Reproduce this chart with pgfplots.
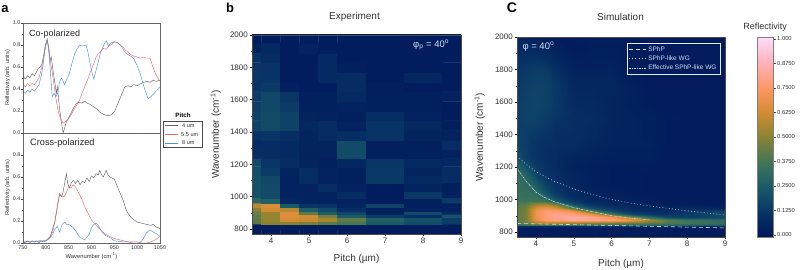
\documentclass[border=0pt]{standalone}
\usepackage{pgfplots}
\pgfplotsset{compat=1.18}
\usepackage{fontspec}
\setmainfont{Liberation Sans}
\definecolor{lbl}{gray}{0.2}
\definecolor{onmap}{RGB}{205,225,245}
\definecolor{cK}{RGB}{100,100,100}
\definecolor{cR}{RGB}{235,105,110}
\definecolor{cB}{RGB}{80,145,215}
\pgfplotsset{
 colormap={refl}{rgb255=(0,22,90) rgb255=(8,52,102) rgb255=(25,90,105) rgb255=(65,118,88) rgb255=(138,130,50) rgb255=(212,140,50) rgb255=(255,152,102) rgb255=(255,178,190) rgb255=(255,222,250)},
 /pgf/number format/assume math mode=true,
 /pgf/number format/1000 sep={},
 every axis/.append style={scale only axis, tick align=outside, xtick pos=bottom, ytick pos=left, axis on top},
 aspec/.style={xmin=750,xmax=1050,ymin=0,ymax=1,width=137pt,height=110pt,
   axis line style={gray!80!black,line width=.5pt}, tick style={gray!60!black,line width=.3pt},
   major tick length=1.5pt, minor tick length=1pt,
   xtick={750,800,...,1050}, ytick={0,.2,.4,.6,.8,1}, minor y tick num=1, minor x tick num=1,
   tick label style={font=\fontsize{5.4}{6}\selectfont,text=lbl,inner sep=1pt},
   yticklabel style={/pgf/number format/fixed,/pgf/number format/fixed zerofill,/pgf/number format/precision=1},
   ylabel style={font=\fontsize{5.6}{6}\selectfont,text=lbl},
   xlabel style={font=\fontsize{5.8}{6}\selectfont,text=lbl},
   ylabel={Reflectivity (arb. units)}, ylabel shift=-2pt, xlabel shift=-1pt},
 mapspec/.style={xmin=3.5,xmax=9,ymin=769,ymax=2000,
   colormap name=refl, point meta min=0, point meta max=1,
   xtick={4,5,6,7,8,9}, ytick={800,1000,...,2000}, minor x tick num=1, minor y tick num=1,
   major tick length=2.5pt, minor tick length=1.5pt,
   tick style={black,line width=.35pt},
   axis line style={line width=.3pt,black!70},
   tick label style={font=\fontsize{8}{9}\selectfont,text=lbl,inner sep=1.5pt},
   label style={font=\fontsize{10}{11}\selectfont,text=lbl},
   xlabel={Pitch (µm)}, ylabel={Wavenumber (cm\textsuperscript{-1})}, ylabel shift=4pt, xlabel shift=5pt},
}
\begin{document}
\begin{tikzpicture}[x=1pt,y=1pt]
\useasboundingbox (0,0) rectangle (800,270);
% --- panel a top
\begin{axis}[aspec, at={(23pt,137pt)}, anchor=south west, xticklabels={}]
\addplot[cK,line width=.45pt] coordinates {(750,.52)(755,.49)(760,.52)(765,.5)(770,.54)(775,.52)(780,.56)(784,.59)(787,.6)(791,.62)(795,.7)(799,.8)(803,.85)(806,.78)(809,.66)(812,.69)(816,.56)(820,.45)(823,.36)(825,.42)(827,.35)(830,.22)(834,.1)(838,.0)(842,.06)(845,.1)(849,.13)(855,.18)(861,.23)(867,.27)(873,.28)(879,.27)(885,.29)(891,.27)(897,.26)(904,.24)(911,.22)(918,.19)(926,.17)(933,.16)(940,.16)(945,.17)(951,.2)(956,.25)(962,.31)(968,.37)(973,.42)(980,.43)(986,.42)(992,.44)(1000,.43)(1008,.45)(1015,.46)(1021,.47)(1028,.46)(1035,.48)(1042,.47)(1050,.48)};
\addplot[cR,line width=.45pt] coordinates {(750,.44)(755,.42)(760,.45)(765,.43)(770,.45)(775,.44)(780,.47)(785,.5)(790,.58)(795,.68)(799,.78)(803,.85)(807,.76)(811,.62)(816,.5)(821,.34)(827,.2)(832,.13)(838,.09)(845,.11)(852,.14)(860,.2)(867,.25)(874,.3)(880,.37)(887,.44)(893,.5)(899,.57)(905,.63)(911,.7)(917,.73)(922,.75)(926,.77)(932,.76)(938,.79)(945,.81)(951,.83)(957,.82)(963,.8)(969,.78)(975,.75)(981,.73)(987,.71)(992,.7)(1000,.69)(1007,.68)(1014,.69)(1021,.68)(1028,.68)(1033,.62)(1039,.55)(1045,.5)(1050,.47)};
\addplot[cB,line width=.45pt] coordinates {(750,.38)(755,.36)(760,.39)(765,.37)(770,.4)(775,.38)(780,.41)(785,.44)(790,.52)(795,.65)(799,.78)(803,.85)(807,.72)(811,.5)(814,.33)(818,.36)(822,.33)(826,.36)(830,.46)(834,.5)(837,.48)(841,.44)(846,.49)(852,.55)(857,.63)(863,.72)(868,.76)(874,.8)(880,.79)(888,.8)(892,.74)(896,.65)(900,.57)(905,.49)(910,.57)(915,.65)(919,.72)(922,.75)(927,.8)(932,.84)(937,.79)(943,.82)(951,.83)(958,.82)(965,.79)(971,.75)(977,.72)(985,.7)(992,.68)(999,.62)(1006,.55)(1012,.46)(1018,.38)(1024,.31)(1030,.33)(1037,.36)(1044,.39)(1050,.42)};
\end{axis}
% --- panel a bottom
\begin{axis}[aspec, at={(23pt,27pt)}, anchor=south west, xlabel={Wavenumber (cm\textsuperscript{-1})}, ytick={0,.2,.4,.6,.8}]
\addplot[cK,line width=.45pt] coordinates {(750,.01)(770,.015)(790,.02)(800,.02)(805,.04)(810,.06)(815,.13)(820,.2)(825,.33)(830,.44)(835,.42)(838,.47)(842,.56)(845,.63)(848,.54)(852,.5)(856,.55)(860,.57)(865,.54)(870,.57)(875,.53)(880,.56)(885,.55)(890,.59)(895,.56)(900,.61)(905,.59)(910,.63)(915,.62)(918,.66)(922,.62)(926,.6)(932,.66)(936,.62)(940,.6)(945,.59)(950,.58)(955,.53)(960,.48)(965,.43)(970,.38)(975,.31)(980,.27)(985,.24)(990,.22)(1000,.19)(1010,.18)(1020,.17)(1030,.16)(1035,.17)(1040,.15)(1050,.13)};
\addplot[cR,line width=.45pt] coordinates {(750,.01)(780,.01)(800,.02)(808,.05)(815,.1)(820,.2)(825,.32)(830,.45)(835,.43)(840,.42)(845,.46)(850,.51)(855,.5)(860,.53)(865,.51)(870,.47)(875,.43)(880,.39)(885,.33)(890,.29)(895,.25)(900,.21)(910,.16)(920,.12)(930,.08)(940,.06)(950,.04)(960,.03)(970,.02)(980,.01)(990,.01)(1000,.01)(1010,.0)(1020,.0)(1030,.01)(1040,.03)(1050,.06)};
\addplot[cB,line width=.45pt] coordinates {(750,.01)(755,.0)(760,.02)(765,.0)(770,.02)(775,.01)(780,.02)(785,.0)(790,.02)(795,.01)(800,.02)(805,.03)(810,.05)(815,.08)(820,.13)(825,.15)(830,.1)(835,.16)(838,.18)(842,.19)(845,.17)(850,.17)(860,.14)(865,.11)(870,.08)(875,.05)(880,.04)(885,.03)(890,.05)(895,.08)(900,.14)(905,.17)(910,.18)(915,.16)(920,.12)(925,.09)(930,.07)(940,.05)(950,.02)(960,.015)(970,.01)(980,.01)(990,.0)(1000,.0)(1005,.0)(1010,.02)(1015,.05)(1020,.09)(1028,.12)(1035,.1)(1040,.09)(1050,.06)};
\end{axis}
\node[font=\fontsize{9}{10}\selectfont,text=black!85,anchor=west,inner sep=0] at (29,236) {Co-polarized};
\node[font=\fontsize{9.2}{10}\selectfont,text=black!85,anchor=west,inner sep=0] at (30,126.5) {Cross-polarized};
% legend of panel a
\draw[black!70,line width=.4pt] (163.5,149) rectangle (202.5,123);
\node[font=\bfseries\fontsize{6.2}{7}\selectfont,inner sep=0] at (183,154.5) {Pitch};
\draw[cK,line width=.5pt] (165,144.5) -- (178,144.5);
\draw[cR,line width=.5pt] (165,135.5) -- (178,135.5);
\draw[cB,line width=.5pt] (165,127) -- (178,127);
\node[font=\fontsize{5.6}{6}\selectfont,text=lbl,anchor=west,inner sep=0] at (182,144.5) {4 um};
\node[font=\fontsize{5.6}{6}\selectfont,text=lbl,anchor=west,inner sep=0] at (181,135.5) {5.5 um};
\node[font=\fontsize{5.6}{6}\selectfont,text=lbl,anchor=west,inner sep=0] at (182,127) {8 um};
% --- panel b
\begin{axis}[mapspec, at={(252pt,36pt)}, anchor=south west, width=209pt, height=199pt]
\addplot[matrix plot*, mesh/cols=9, point meta=explicit] table[row sep=\\, meta index=2]{
3.5 780 .02\\4 780 .02\\4.5 780 .02\\5 780 .02\\5.5 780 .02\\6 780 .02\\7 780 .02\\8 780 .02\\9 780 .02\\
3.5 820 .03\\4 820 .03\\4.5 820 .03\\5 820 .03\\5.5 820 .03\\6 820 .03\\7 820 .03\\8 820 .03\\9 820 .03\\
3.5 840 .42\\4 840 .5\\4.5 840 .5\\5 840 .47\\5.5 840 .42\\6 840 .38\\7 840 .25\\8 840 .2\\9 840 .15\\
3.5 860 .42\\4 860 .52\\4.5 860 .62\\5 860 .6\\5.5 860 .55\\6 860 .43\\7 860 .28\\8 860 .22\\9 860 .15\\
3.5 880 .42\\4 880 .52\\4.5 880 .65\\5 880 .62\\5.5 880 .47\\6 880 .26\\7 880 .15\\8 880 .1\\9 880 .22\\
3.5 900 .45\\4 900 .52\\4.5 900 .65\\5 900 .42\\5.5 900 .27\\6 900 .18\\7 900 .05\\8 900 .2\\9 900 .07\\
3.5 920 .5\\4 920 .62\\4.5 920 .58\\5 920 .27\\5.5 920 .2\\6 920 .1\\7 920 .04\\8 920 .05\\9 920 .04\\
3.5 945 .58\\4 945 .64\\4.5 945 .25\\5 945 .13\\5.5 945 .12\\6 945 .06\\7 945 .17\\8 945 .04\\9 945 .04\\
3.5 975 .3\\4 975 .28\\4.5 975 .07\\5 975 .06\\5.5 975 .05\\6 975 .05\\7 975 .03\\8 975 .04\\9 975 .15\\
3.5 1010 .22\\4 1010 .2\\4.5 1010 .06\\5 1010 .05\\5.5 1010 .05\\6 1010 .09\\7 1010 .03\\8 1010 .14\\9 1010 .05\\
3.5 1060 .22\\4 1060 .2\\4.5 1060 .05\\5 1060 .05\\5.5 1060 .1\\6 1060 .05\\7 1060 .03\\8 1060 .06\\9 1060 .04\\
3.5 1110 .22\\4 1110 .19\\4.5 1110 .05\\5 1110 .1\\5.5 1110 .05\\6 1110 .04\\7 1110 .14\\8 1110 .08\\9 1110 .09\\
3.5 1160 .21\\4 1160 .15\\4.5 1160 .06\\5 1160 .1\\5.5 1160 .05\\6 1160 .04\\7 1160 .14\\8 1160 .06\\9 1160 .09\\
3.5 1210 .2\\4 1210 .13\\4.5 1210 .09\\5 1210 .06\\5.5 1210 .04\\6 1210 .07\\7 1210 .13\\8 1210 .08\\9 1210 .07\\
3.5 1260 .1\\4 1260 .1\\4.5 1260 .08\\5 1260 .05\\5.5 1260 .05\\6 1260 .2\\7 1260 .04\\8 1260 .04\\9 1260 .05\\
3.5 1320 .09\\4 1320 .09\\4.5 1320 .08\\5 1320 .06\\5.5 1320 .06\\6 1320 .2\\7 1320 .04\\8 1320 .04\\9 1320 .09\\
3.5 1380 .12\\4 1380 .13\\4.5 1380 .1\\5 1380 .06\\5.5 1380 .09\\6 1380 .1\\7 1380 .12\\8 1380 .06\\9 1380 .05\\
3.5 1440 .17\\4 1440 .2\\4.5 1440 .17\\5 1440 .07\\5.5 1440 .09\\6 1440 .05\\7 1440 .12\\8 1440 .07\\9 1440 .04\\
3.5 1500 .17\\4 1500 .2\\4.5 1500 .17\\5 1500 .06\\5.5 1500 .05\\6 1500 .04\\7 1500 .1\\8 1500 .05\\9 1500 .03\\
3.5 1560 .16\\4 1560 .19\\4.5 1560 .15\\5 1560 .04\\5.5 1560 .04\\6 1560 .05\\7 1560 .04\\8 1560 .04\\9 1560 .03\\
3.5 1620 .15\\4 1620 .19\\4.5 1620 .13\\5 1620 .04\\5.5 1620 .04\\6 1620 .08\\7 1620 .04\\8 1620 .04\\9 1620 .05\\
3.5 1680 .13\\4 1680 .14\\4.5 1680 .04\\5 1680 .03\\5.5 1680 .03\\6 1680 .09\\7 1680 .04\\8 1680 .03\\9 1680 .03\\
3.5 1740 .13\\4 1740 .12\\4.5 1740 .03\\5 1740 .03\\5.5 1740 .08\\6 1740 .09\\7 1740 .03\\8 1740 .07\\9 1740 .03\\
3.5 1800 .13\\4 1800 .12\\4.5 1800 .03\\5 1800 .03\\5.5 1800 .08\\6 1800 .04\\7 1800 .03\\8 1800 .03\\9 1800 .03\\
3.5 1860 .12\\4 1860 .09\\4.5 1860 .03\\5 1860 .03\\5.5 1860 .08\\6 1860 .03\\7 1860 .03\\8 1860 .03\\9 1860 .03\\
3.5 1920 .05\\4 1920 .08\\4.5 1920 .03\\5 1920 .05\\5.5 1920 .03\\6 1920 .03\\7 1920 .03\\8 1920 .03\\9 1920 .03\\
3.5 1980 .03\\4 1980 .03\\4.5 1980 .03\\5 1980 .03\\5.5 1980 .03\\6 1980 .03\\7 1980 .03\\8 1980 .03\\9 1980 .03\\
};
\end{axis}
% --- panel c
\begin{axis}[mapspec, at={(517pt,33pt)}, anchor=south west, width=208pt, height=200pt, xlabel shift=7pt, ylabel shift=5pt,
  legend style={at={(0.975,0.97)},anchor=north east,fill=none,draw=onmap!60,line width=.3pt,
    font=\fontsize{6.5}{7}\selectfont,text=onmap,row sep=-1pt,inner sep=1.2pt},
  legend cell align=left]
\addplot[surf, shader=interp, mesh/cols=14, point meta=explicit, forget plot] table[row sep=\\, meta index=2]{
3.5 769 .02\\3.75 769 .02\\4 769 .02\\4.25 769 .02\\4.5 769 .02\\5 769 .02\\5.5 769 .02\\6 769 .02\\6.5 769 .02\\7 769 .02\\7.5 769 .02\\8 769 .02\\8.5 769 .02\\9 769 .02\\
3.5 822 .03\\3.75 822 .03\\4 822 .03\\4.25 822 .03\\4.5 822 .03\\5 822 .03\\5.5 822 .03\\6 822 .03\\6.5 822 .03\\7 822 .03\\7.5 822 .03\\8 822 .03\\8.5 822 .03\\9 822 .03\\
3.5 835 .1\\3.75 835 .1\\4 835 .1\\4.25 835 .1\\4.5 835 .1\\5 835 .1\\5.5 835 .1\\6 835 .1\\6.5 835 .1\\7 835 .09\\7.5 835 .09\\8 835 .08\\8.5 835 .08\\9 835 .08\\
3.5 845 .32\\3.75 845 .34\\4 845 .36\\4.25 845 .36\\4.5 845 .36\\5 845 .34\\5.5 845 .33\\6 845 .32\\6.5 845 .31\\7 845 .3\\7.5 845 .29\\8 845 .28\\8.5 845 .27\\9 845 .26\\
3.5 858 .42\\3.75 858 .45\\4 858 .54\\4.25 858 .56\\4.5 858 .56\\5 858 .52\\5.5 858 .49\\6 858 .46\\6.5 858 .43\\7 858 .41\\7.5 858 .39\\8 858 .37\\8.5 858 .35\\9 858 .33\\
3.5 872 .42\\3.75 872 .47\\4 872 .68\\4.25 872 .76\\4.5 872 .8\\5 872 .83\\5.5 872 .82\\6 872 .78\\6.5 872 .7\\7 872 .55\\7.5 872 .42\\8 872 .36\\8.5 872 .34\\9 872 .32\\
3.5 890 .42\\3.75 890 .47\\4 890 .7\\4.25 890 .77\\4.5 890 .8\\5 890 .83\\5.5 890 .8\\6 890 .7\\6.5 890 .52\\7 890 .32\\7.5 890 .2\\8 890 .16\\8.5 890 .17\\9 890 .2\\
3.5 910 .42\\3.75 910 .47\\4 910 .7\\4.25 910 .77\\4.5 910 .8\\5 910 .78\\5.5 910 .66\\6 910 .38\\6.5 910 .2\\7 910 .14\\7.5 910 .12\\8 910 .14\\8.5 910 .17\\9 910 .2\\
3.5 930 .42\\3.75 930 .47\\4 930 .7\\4.25 930 .77\\4.5 930 .77\\5 930 .68\\5.5 930 .38\\6 930 .2\\6.5 930 .12\\7 930 .09\\7.5 930 .09\\8 930 .14\\8.5 930 .16\\9 930 .18\\
3.5 950 .42\\3.75 950 .46\\4 950 .64\\4.25 950 .7\\4.5 950 .66\\5 950 .4\\5.5 950 .2\\6 950 .13\\6.5 950 .09\\7 950 .07\\7.5 950 .07\\8 950 .08\\8.5 950 .07\\9 950 .05\\
3.5 970 .4\\3.75 970 .42\\4 970 .52\\4.25 970 .54\\4.5 970 .45\\5 970 .2\\5.5 970 .12\\6 970 .08\\6.5 970 .06\\7 970 .05\\7.5 970 .04\\8 970 .04\\8.5 970 .03\\9 970 .03\\
3.5 990 .37\\3.75 990 .36\\4 990 .37\\4.25 990 .36\\4.5 990 .26\\5 990 .13\\5.5 990 .08\\6 990 .06\\6.5 990 .05\\7 990 .04\\7.5 990 .03\\8 990 .03\\8.5 990 .03\\9 990 .02\\
3.5 1020 .35\\3.75 1020 .34\\4 1020 .34\\4.25 1020 .28\\4.5 1020 .18\\5 1020 .09\\5.5 1020 .06\\6 1020 .05\\6.5 1020 .04\\7 1020 .03\\7.5 1020 .02\\8 1020 .02\\8.5 1020 .02\\9 1020 .02\\
3.5 1060 .34\\3.75 1060 .33\\4 1060 .3\\4.25 1060 .2\\4.5 1060 .13\\5 1060 .08\\5.5 1060 .05\\6 1060 .04\\6.5 1060 .03\\7 1060 .02\\7.5 1060 .02\\8 1060 .02\\8.5 1060 .02\\9 1060 .02\\
3.5 1100 .34\\3.75 1100 .32\\4 1100 .24\\4.25 1100 .16\\4.5 1100 .11\\5 1100 .06\\5.5 1100 .04\\6 1100 .03\\6.5 1100 .03\\7 1100 .02\\7.5 1100 .02\\8 1100 .02\\8.5 1100 .02\\9 1100 .02\\
3.5 1150 .33\\3.75 1150 .28\\4 1150 .18\\4.25 1150 .13\\4.5 1150 .1\\5 1150 .06\\5.5 1150 .04\\6 1150 .03\\6.5 1150 .03\\7 1150 .02\\7.5 1150 .02\\8 1150 .02\\8.5 1150 .02\\9 1150 .02\\
3.5 1200 .3\\3.75 1200 .22\\4 1200 .15\\4.25 1200 .12\\4.5 1200 .09\\5 1200 .05\\5.5 1200 .04\\6 1200 .03\\6.5 1200 .03\\7 1200 .03\\7.5 1200 .02\\8 1200 .02\\8.5 1200 .02\\9 1200 .02\\
3.5 1260 .22\\3.75 1260 .16\\4 1260 .12\\4.25 1260 .1\\4.5 1260 .09\\5 1260 .06\\5.5 1260 .05\\6 1260 .04\\6.5 1260 .04\\7 1260 .04\\7.5 1260 .02\\8 1260 .02\\8.5 1260 .02\\9 1260 .02\\
3.5 1330 .18\\3.75 1330 .15\\4 1330 .12\\4.25 1330 .1\\4.5 1330 .1\\5 1330 .09\\5.5 1330 .06\\6 1330 .05\\6.5 1330 .05\\7 1330 .05\\7.5 1330 .03\\8 1330 .02\\8.5 1330 .02\\9 1330 .02\\
3.5 1400 .16\\3.75 1400 .15\\4 1400 .14\\4.25 1400 .12\\4.5 1400 .1\\5 1400 .1\\5.5 1400 .08\\6 1400 .05\\6.5 1400 .05\\7 1400 .04\\7.5 1400 .03\\8 1400 .02\\8.5 1400 .02\\9 1400 .02\\
3.5 1500 .16\\3.75 1500 .17\\4 1500 .17\\4.25 1500 .15\\4.5 1500 .12\\5 1500 .1\\5.5 1500 .09\\6 1500 .06\\6.5 1500 .05\\7 1500 .04\\7.5 1500 .03\\8 1500 .02\\8.5 1500 .02\\9 1500 .02\\
3.5 1600 .15\\3.75 1600 .17\\4 1600 .18\\4.25 1600 .17\\4.5 1600 .14\\5 1600 .08\\5.5 1600 .08\\6 1600 .06\\6.5 1600 .04\\7 1600 .03\\7.5 1600 .02\\8 1600 .02\\8.5 1600 .02\\9 1600 .02\\
3.5 1700 .14\\3.75 1700 .16\\4 1700 .17\\4.25 1700 .17\\4.5 1700 .14\\5 1700 .07\\5.5 1700 .07\\6 1700 .07\\6.5 1700 .04\\7 1700 .02\\7.5 1700 .02\\8 1700 .02\\8.5 1700 .02\\9 1700 .02\\
3.5 1800 .13\\3.75 1800 .14\\4 1800 .15\\4.25 1800 .15\\4.5 1800 .11\\5 1800 .05\\5.5 1800 .05\\6 1800 .05\\6.5 1800 .03\\7 1800 .02\\7.5 1800 .02\\8 1800 .02\\8.5 1800 .02\\9 1800 .02\\
3.5 1900 .09\\3.75 1900 .09\\4 1900 .09\\4.25 1900 .08\\4.5 1900 .06\\5 1900 .03\\5.5 1900 .04\\6 1900 .04\\6.5 1900 .03\\7 1900 .02\\7.5 1900 .02\\8 1900 .02\\8.5 1900 .02\\9 1900 .02\\
3.5 2000 .06\\3.75 2000 .05\\4 2000 .04\\4.25 2000 .03\\4.5 2000 .03\\5 2000 .02\\5.5 2000 .03\\6 2000 .03\\6.5 2000 .02\\7 2000 .02\\7.5 2000 .02\\8 2000 .02\\8.5 2000 .02\\9 2000 .02\\
};
\addplot[onmap,line width=.6pt,dash pattern=on 4pt off 3pt] coordinates {(3.5,852)(4,850)(5,845)(6,840)(7,835)(8,830)(9,825)};
\addlegendentry{SPhP}
\addplot[onmap,line width=.6pt,dash pattern=on .8pt off 2.4pt] coordinates {(3.5,1265)(3.75,1215)(4,1170)(4.5,1110)(5,1065)(5.5,1030)(6,1000)(6.5,978)(7,960)(7.5,945)(8,930)(8.5,917)(9,905)};
\addlegendentry{SPhP-like WG}
\addplot[onmap,line width=.5pt,dash pattern=on 2.5pt off .8pt on .8pt off .8pt] coordinates {(3.5,1190)(3.75,1110)(4,1045)(4.25,1010)(4.5,985)(5,950)(5.5,925)(6,900)(6.5,885)(7,875)};
\addlegendentry{Effective SPhP-like WG}
\node[text=onmap,font=\fontsize{9.5}{10}\selectfont,anchor=west,inner sep=0] at (axis cs:3.64,1940) {φ = 40\textsuperscript{o}};
\end{axis}
% --- colorbar
\begin{axis}[at={(757pt,33pt)}, anchor=south west, width=16pt, height=200pt,
  colormap name=refl, point meta min=0, point meta max=1,
  xmin=0,xmax=1,ymin=-.012,ymax=1.01, xtick=\empty,
  ytick={0,.125,.25,.375,.5,.625,.75,.875,1},
  yticklabels={0.000,0.1250,0.2500,0.3750,0.5000,0.6250,0.7500,0.8750,1.000},
  yticklabel pos=right, ytick pos=right,
  major tick length=2.5pt, tick style={black!70,line width=.3pt},
  axis line style={black!50,line width=.3pt},
  tick label style={font=\fontsize{5.8}{6}\selectfont,text=lbl,inner sep=1.5pt}]
\addplot[surf, shader=interp, mesh/cols=2, point meta=explicit] table[row sep=\\, meta index=2]{
0 -.012 0\\1 -.012 0\\
0 1.01 1\\1 1.01 1\\
};
\end{axis}
% --- texts
\node[font=\bfseries\fontsize{13}{14}\selectfont,inner sep=0] at (5,261) {a};
\node[font=\bfseries\fontsize{13}{14}\selectfont,inner sep=0] at (230,262) {b};
\node[font=\bfseries\fontsize{14}{15}\selectfont,inner sep=0] at (512,262) {C};
\node[font=\fontsize{10}{11}\selectfont,text=lbl,inner sep=0] at (354.5,253) {Experiment};
\node[font=\fontsize{10}{11}\selectfont,text=lbl,inner sep=0] at (620.5,253) {Simulation};
\node[font=\fontsize{9}{10}\selectfont,text=lbl,inner sep=0] at (765,243) {Reflectivity};
\node[text=onmap,font=\fontsize{9.5}{10}\selectfont,anchor=west,inner sep=0] at (413,225) {φ\textsubscript{p} = 40\textsuperscript{o}};
\end{tikzpicture}
\end{document}
